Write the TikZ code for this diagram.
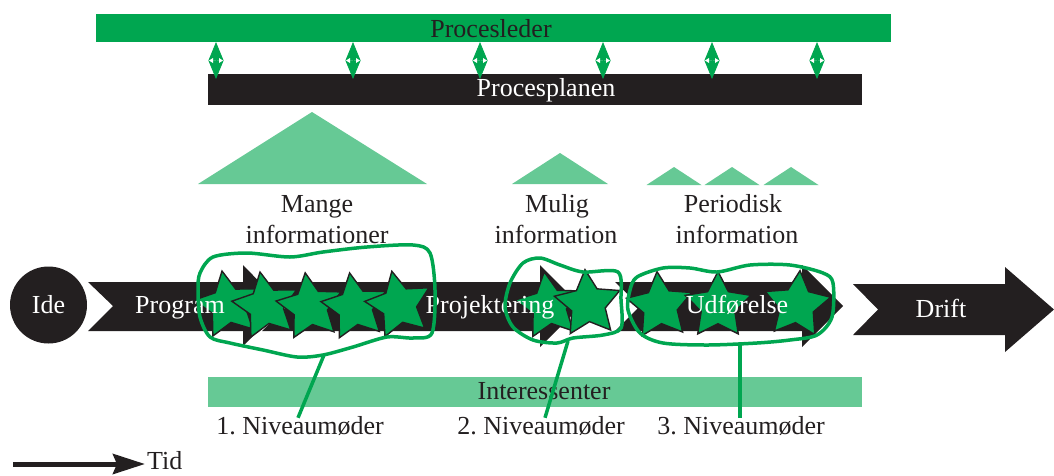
\documentclass[tikz,border=0pt]{standalone}
\usepackage{fontspec}
\setmainfont{Liberation Serif}
\usetikzlibrary{shapes.geometric,arrows.meta}

\definecolor{procgreen}{HTML}{00A650}
\definecolor{palegreen}{HTML}{66C995}
\definecolor{procblack}{HTML}{231F20}

\frenchspacing

\begin{document}
\begin{tikzpicture}[x=1pt,y=-1pt,
    lbl/.style={font=\fontsize{26}{31}\selectfont,text=procblack,inner sep=0pt,anchor=base},
    wlbl/.style={lbl,text=white},
    band/.style={inner sep=0pt,outer sep=0pt},
    phase/.style={fill=procblack},
    hill/.style={fill=palegreen},
    meeting/.style={star,star points=5,star point ratio=1.95,minimum size=69pt,inner sep=0pt,
        fill=procgreen,draw=procblack,line width=1.4pt},
    ring/.style={draw=procgreen,line width=3.5pt,line cap=round,line join=round},
    sync/.style={procgreen,line width=0.8pt,{Triangle[length=18.5pt,width=15pt]}-{Triangle[length=18.5pt,width=15pt]}}]
    \useasboundingbox (0,0) rectangle (1054,475);

    % bars
    \node[band,fill=procgreen,minimum width=795pt,minimum height=28pt] (leder) at (493.5,28) {};
    \node[band,fill=procblack,minimum width=654pt,minimum height=31pt] (plan) at (535,89.5) {};
    \node[band,fill=palegreen,minimum width=654pt,minimum height=30pt] (stake) at (535,392) {};
    \node[lbl] (lederT) at (491,37) {Procesleder};
    \node[wlbl] (planT) at (546,96) {Procesplanen};
    \node[lbl] (stakeT) at (544,399) {Interessenter};

    % contact between leder and plan
    \foreach \x in {216,353,480,603,712,817} {
        \draw[sync] ([xshift={(\x-493.5)*1pt}]leder.south) -- ([xshift={(\x-535)*1pt},yshift=-5pt]plan.north);
        \fill[white] (\x-7,60.5) -- (\x-3,58) -- (\x-3,63) -- cycle;
        \fill[white] (\x+7,60.5) -- (\x+3,58) -- (\x+3,63) -- cycle;
    }

    % information amount
    \fill[hill] (198,184) -- (312,112) -- (427,184) -- cycle;
    \fill[hill] (512,184) -- (560,153) -- (608,184) -- cycle;
    \foreach \x in {674,732,791}
        \fill[hill] (\x-27.5,185) -- (\x,167) -- (\x+27.5,185) -- cycle;
    \node[lbl] (infoA1) at (317,212) {Mange};
    \node[lbl] (infoA2) at (317,243) {informationer};
    \node[lbl] (infoB1) at (557,212) {Mulig};
    \node[lbl] (infoB2) at (556,243) {information};
    \node[lbl] (infoC1) at (733,212) {Periodisk};
    \node[lbl] (infoC2) at (737,243) {information};

    % phases
    \node[circle,fill=procblack,minimum size=77pt,inner sep=0pt] (ide) at (48.5,305) {};
    \fill[phase] (88,282) -- (243,282) -- (243,265) -- (283,306) -- (243,346) -- (243,331) -- (88,331) -- (113,306) -- cycle;
    \fill[phase] (262,282) -- (540,282) -- (540,265) -- (581,306) -- (540,347) -- (540,331) -- (262,331) -- (287,306) -- cycle;
    \fill[phase] (615,282) -- (802,282) -- (802,265) -- (843,306) -- (802,347) -- (802,331) -- (615,331) -- (640,306) -- cycle;
    \fill[phase] (853,284) -- (1005,284) -- (1005,267) -- (1054,309.5) -- (1005,352) -- (1005,335) -- (853,335) -- (878,309.5) -- cycle;

    % meetings
    \foreach \i/\x/\y/\r in {1/228/305/10,2/266/306/10,3/310/307/8,4/355/307/9,5/399/305/12,
                             6/549/306/8,7/588/304/5,
                             8/660/306/5,9/718/306/0,10/797/305/-5}
        \node[meeting,rotate=\r] (m\i) at (\x,\y) {};

    \node[wlbl] (ideT) at (48.5,313) {Ide};
    \node[wlbl] (prog) at (180,313) {Program};
    \node[wlbl] (proj) at (490,313) {Projektering};
    \node[wlbl] (udf) at (737,313) {Udførelse};
    \node[wlbl] (drift) at (941,317) {Drift};

    % meeting levels
    \draw[ring] plot[smooth cycle] coordinates {(200,273) (213,257) (247,253) (290,257) (323,252) (367,247)
        (413,245) (430,253) (435,290) (432,333) (413,338) (387,337) (353,347) (323,355) (297,357)
        (263,350) (230,343) (210,337) (200,317) (198,290)};
    \draw[ring] plot[smooth cycle] coordinates {(510,283) (523,263) (540,258) (560,265) (583,272) (618,272)
        (621,300) (621,328) (603,335) (573,338) (557,343) (533,340) (513,327) (505,307)};
    \draw[ring] plot[smooth cycle] coordinates {(630,290) (637,277) (663,268) (690,268) (717,272) (750,265)
        (790,265) (823,273) (833,283) (832,317) (817,335) (790,340) (757,343) (707,345) (663,343)
        (640,333) (628,310)};
    \coordinate (ringA) at (324,355);
    \coordinate (ringB) at (568,341);
    \coordinate (ringC) at (740,344);

    \node[lbl] (lvl1) at (300,434) {1. Niveaumøder};
    \node[lbl] (lvl2) at (541,434) {2. Niveaumøder};
    \node[lbl] (lvl3) at (741,434) {3. Niveaumøder};
    \draw[ring,line cap=butt] (ringA) -- ([xshift=-2pt,yshift=-2pt]lvl1.north);
    \draw[ring,line cap=butt] (ringB) -- ([xshift=4pt,yshift=-2pt]lvl2.north);
    \draw[ring,line cap=butt] (ringC) -- ([xshift=-1pt,yshift=-2pt]lvl3.north);

    % time axis
    \node[lbl,anchor=base west] (tid) at (147,469) {Tid};
    \coordinate (t0) at (13,464);
    \draw[procblack,line width=5pt,-{Stealth[length=32pt,width=20pt,inset=4pt]}] (t0) -- ([xshift=-2pt]t0 -| tid.west);
\end{tikzpicture}
\end{document}
